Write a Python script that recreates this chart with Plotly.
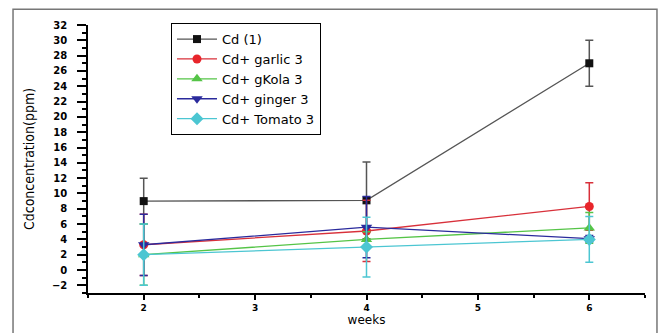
import plotly.graph_objects as go

weeks = [2, 4, 6]
series_names = ["Cd (1)", "Cd+ garlic 3", "Cd+ gKola 3", "Cd+ ginger 3", "Cd+ Tomato 3"]
cd_vals = [9.0, 9.1, 27.0]
cd_err = [3.0, 5.0, 3.0]
garlic_vals = [3.3, 5.1, 8.3]
garlic_err = [4.0, 4.0, 3.1]
gkola_vals = [2.0, 4.0, 5.5]
gkola_err = [4.0, 1.0, 2.0]
ginger_vals = [3.3, 5.6, 4.1]
ginger_err = [4.0, 4.0, 0.4]
tomato_vals = [2.0, 3.0, 4.0]
tomato_err = [4.0, 3.9, 3.0]

values = [cd_vals, garlic_vals, gkola_vals, ginger_vals, tomato_vals]
errors = [cd_err, garlic_err, gkola_err, ginger_err, tomato_err]
colors = ["#111111", "#e8252b", "#55c447", "#2a2a9c", "#4cc6d2"]
line_colors = ["#555555", "#d8303a", "#55c447", "#2a2a9c", "#4cc6d2"]
symbols = ["square", "circle", "triangle-up", "triangle-down", "diamond"]
msizes = [8, 9, 10, 10, 10]

fig = go.Figure()
for name, v, e, c, lc, s, ms in zip(series_names, values, errors, colors, line_colors, symbols, msizes):
    fig.add_trace(go.Scatter(
        x=weeks, y=v, name=name, mode="lines+markers",
        line=dict(color=lc, width=1.3),
        marker=dict(symbol=s, size=ms, color=c),
        error_y=dict(type="data", array=e, visible=True, color=lc, thickness=1.5, width=4),
    ))

fig.add_shape(type="rect", xref="paper", yref="paper",
              x0=-0.1346, x1=1.0215, y0=-0.2, y1=1.0588,
              line=dict(color="#777777", width=1.5), layer="below")

fig.update_layout(
    width=661, height=333,
    margin=dict(l=88, r=16, t=25, b=36),
    paper_bgcolor="white", plot_bgcolor="white",
    font=dict(family="Liberation Sans, Arial, sans-serif", color="black"),
    showlegend=True,
    legend=dict(x=0.149, y=1.007, xanchor="left", yanchor="top",
                bordercolor="black", borderwidth=1, bgcolor="white",
                font=dict(size=13, family="DejaVu Sans, sans-serif"),
                itemwidth=40),
    xaxis=dict(range=[1.5, 6.5], dtick=1, tick0=2, showgrid=False, zeroline=False,
               showline=True, linecolor="black", linewidth=1.5,
               ticks="outside", ticklen=5, tickwidth=1.5, tickcolor="black",
               minor=dict(dtick=0.5, tick0=1.5, ticks="outside", ticklen=3, tickwidth=1.5, tickcolor="black"),
               tickfont=dict(size=9, family="DejaVu Sans, sans-serif", weight="bold"),
               title=dict(text="weeks", font=dict(size=12, family="DejaVu Sans, sans-serif"), standoff=0)),
    yaxis=dict(range=[-3, 32], dtick=2, tick0=0, showgrid=False, zeroline=False,
               showline=True, linecolor="black", linewidth=1.5,
               ticks="outside", ticklen=9, tickwidth=1.5, tickcolor="black",
               minor=dict(dtick=1, ticks="outside", ticklen=4, tickwidth=1.5, tickcolor="black"),
               tickfont=dict(size=10, family="DejaVu Sans, sans-serif", weight="bold"),
               ticklabelstandoff=8,
               title=dict(text="Cdconcentration(ppm)",
                          font=dict(size=14, family="Liberation Sans Narrow, DejaVu Sans Condensed, Arial Narrow, sans-serif"),
                          standoff=14)),
)

fig.write_html("out.html", config={"displayModeBar": False},
               post_script="document.body.style.margin='0';")
